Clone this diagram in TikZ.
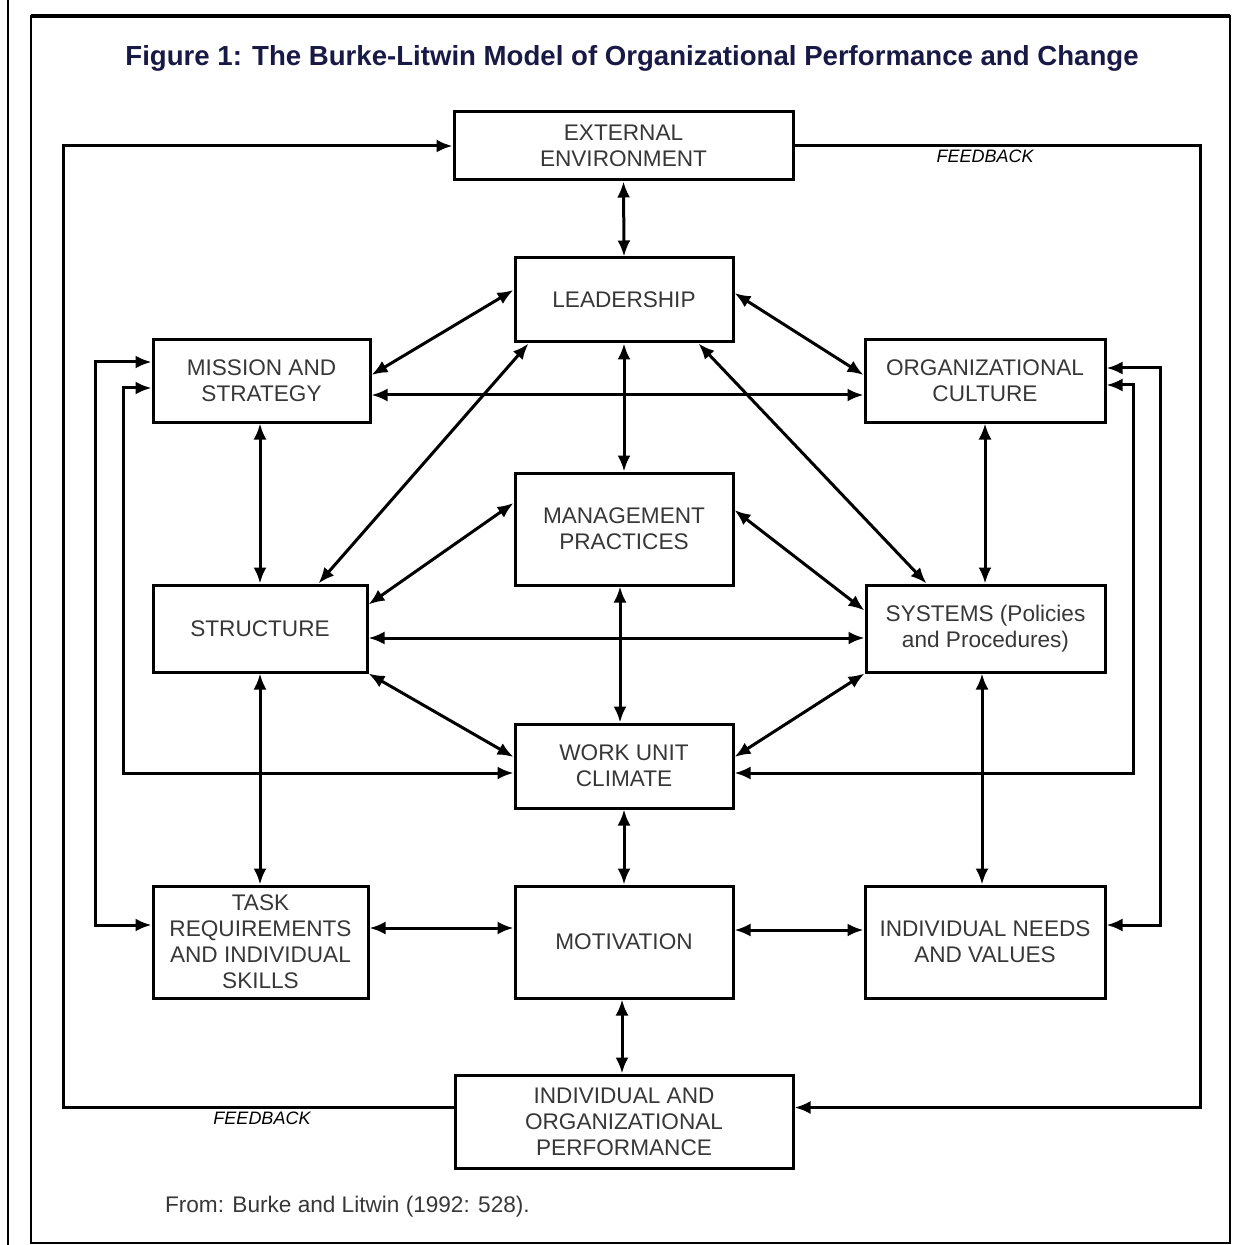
\documentclass[tikz,border=0pt]{standalone}
\usepackage{fontspec}
\setmainfont{Liberation Sans}
\usetikzlibrary{arrows.meta,calc}
\definecolor{titlecol}{RGB}{25,25,70}
\definecolor{txtcol}{RGB}{55,55,55}
\begin{document}
\begin{tikzpicture}[x=0.5pt,y=-0.5pt,
  box/.style={draw,line width=1.5pt,rectangle,inner sep=2pt,align=center,
    text=txtcol,font=\fontsize{11.3}{13}\selectfont},
  arr/.style={line width=1.5pt,{Latex[length=8pt,width=6.5pt]}-{Latex[length=8pt,width=6.5pt]}},
  fb/.style={line width=1.5pt,-{Latex[length=8pt,width=6.5pt]}},
  fblabel/.style={font=\fontsize{9}{10}\itshape,text=black}]
\useasboundingbox (0,0) rectangle (1244,1245);
% frame
\draw[line width=1pt] (8,0) -- (8,1245);
\draw[line width=1.3pt] (31,16) rectangle (1230,1243);
\draw[line width=2pt] (31,16) -- (1230,16);
% title
\node[font=\bfseries\fontsize{13.8}{16}\selectfont,text=titlecol] (title) at (632,58)
  {Figure 1: The Burke-Litwin Model of Organizational Performance and Change};
% boxes
\node[box,minimum width=169.5pt,minimum height=34pt] (ext) at (623.5,146) {EXTERNAL\\ENVIRONMENT};
\node[box,minimum width=109pt,minimum height=42pt] (lead) at (624,300) {LEADERSHIP};
\node[box,minimum width=108.5pt,minimum height=41pt] (mis) at (261.5,381) {MISSION AND\\STRATEGY};
\node[box,minimum width=120pt,minimum height=41pt] (cul) at (985,381) {ORGANIZATIONAL\\CULTURE};
\node[box,minimum width=109pt,minimum height=56pt] (mgmt) at (624,529) {MANAGEMENT\\PRACTICES};
\node[box,minimum width=107pt,minimum height=43.5pt] (str) at (260,628.5) {STRUCTURE};
\node[box,minimum width=119.5pt,minimum height=43.5pt] (sys) at (985.5,628.5) {SYSTEMS (Policies\\and Procedures)};
\node[box,minimum width=109pt,minimum height=42pt] (wu) at (624,766) {WORK UNIT\\CLIMATE};
\node[box,minimum width=107.5pt,minimum height=56pt] (task) at (260.5,942) {TASK\\REQUIREMENTS\\AND INDIVIDUAL\\SKILLS};
\node[box,minimum width=109pt,minimum height=56pt] (mot) at (624,942) {MOTIVATION};
\node[box,minimum width=120pt,minimum height=56pt] (need) at (985,942) {INDIVIDUAL NEEDS\\AND VALUES};
\node[box,minimum width=169pt,minimum height=46.5pt] (perf) at (624,1121.5) {INDIVIDUAL AND\\ORGANIZATIONAL\\PERFORMANCE};
% connectors
\draw[arr] (ext.south) -- (lead.north);
\draw[arr] ($(lead.west)+(0,-10)$) -- ($(mis.east)+(0,-6)$);
\draw[arr] ($(lead.east)+(0,-7)$) -- ($(cul.west)+(0,-6)$);
\draw[arr] (lead.south) -- (mgmt.north);
\draw[arr] ($(lead.south west)+(15,0)$) -- ($(str.north west)+(167,0)$);
\draw[arr] ($(lead.south east)+(-36,0)$) -- ($(sys.north west)+(62,0)$);
\draw[arr] ($(mis.east)+(0,14)$) -- ($(cul.west)+(0,14)$);
\draw[arr] (str.north |- mis.south) -- (str.north);
\draw[arr] (cul.south) -- (cul.south |- sys.north);
\draw[arr] ($(mgmt.west)+(0,-26)$) -- ($(str.north east)+(0,21)$);
\draw[arr] ($(mgmt.east)+(0,-19)$) -- ($(sys.west)+(0,-18)$);
\draw[arr] ($(str.east)+(0,9.5)$) -- ($(sys.west)+(0,9.5)$);
\draw[arr] ($(mgmt.south)+(-4,0)$) -- ($(wu.north)+(-4,0)$);
\draw[arr] (str.south east) -- ($(wu.west)+(0,-9)$);
\draw[arr] (sys.south west) -- ($(wu.east)+(0,-9)$);
\draw[arr] (str.south) -- (str.south |- task.north);
\draw[arr] (wu.south) -- (mot.north);
\draw[arr] ($(sys.south)+(-3.5,0)$) -- ($(sys.south |- need.north)+(-3.5,0)$);
\draw[arr] ($(task.east)+(0,-14)$) -- ($(mot.west)+(0,-14)$);
\draw[arr] ($(mot.east)+(0,-12)$) -- ($(need.west)+(0,-12)$);
\draw[arr] ($(mot.south)+(-2,0)$) -- ($(perf.north)+(-2,0)$);
% inner loops
\coordinate (l1) at (95,650);
\coordinate (l2) at (123,600);
\coordinate (r1) at (1160,650);
\coordinate (r2) at (1133,600);
\draw[arr] ($(mis.west)+(0,-19)$) -| (l1) |- ($(task.west)+(0,-17)$);
\draw[arr] ($(mis.west)+(0,7)$) -| (l2) |- ($(wu.west)+(0,7)$);
\draw[arr] ($(cul.east)+(0,-13)$) -| (r1) |- ($(need.east)+(0,-17)$);
\draw[arr] ($(cul.east)+(0,4)$) -| (r2) |- ($(wu.east)+(0,7)$);
% feedback loops
\coordinate (fbl) at (63,146);
\coordinate (fbr) at (1200,1107.5);
\draw[fb] ($(perf.west)+(0,-14)$) -| (fbl) -- (ext.west);
\draw[fb] (ext.east) -| (fbr) -- ($(perf.east)+(0,-14)$);
\node[fblabel] (fbtxt1) at (262,1118) {FEEDBACK};
\node[fblabel] (fbtxt2) at (985,156) {FEEDBACK};
% caption
\node[anchor=west,font=\fontsize{11.3}{13}\selectfont,text=txtcol] (cap) at (158,1207)
  {From: Burke and Litwin (1992: 528).};
\end{tikzpicture}
\end{document}
